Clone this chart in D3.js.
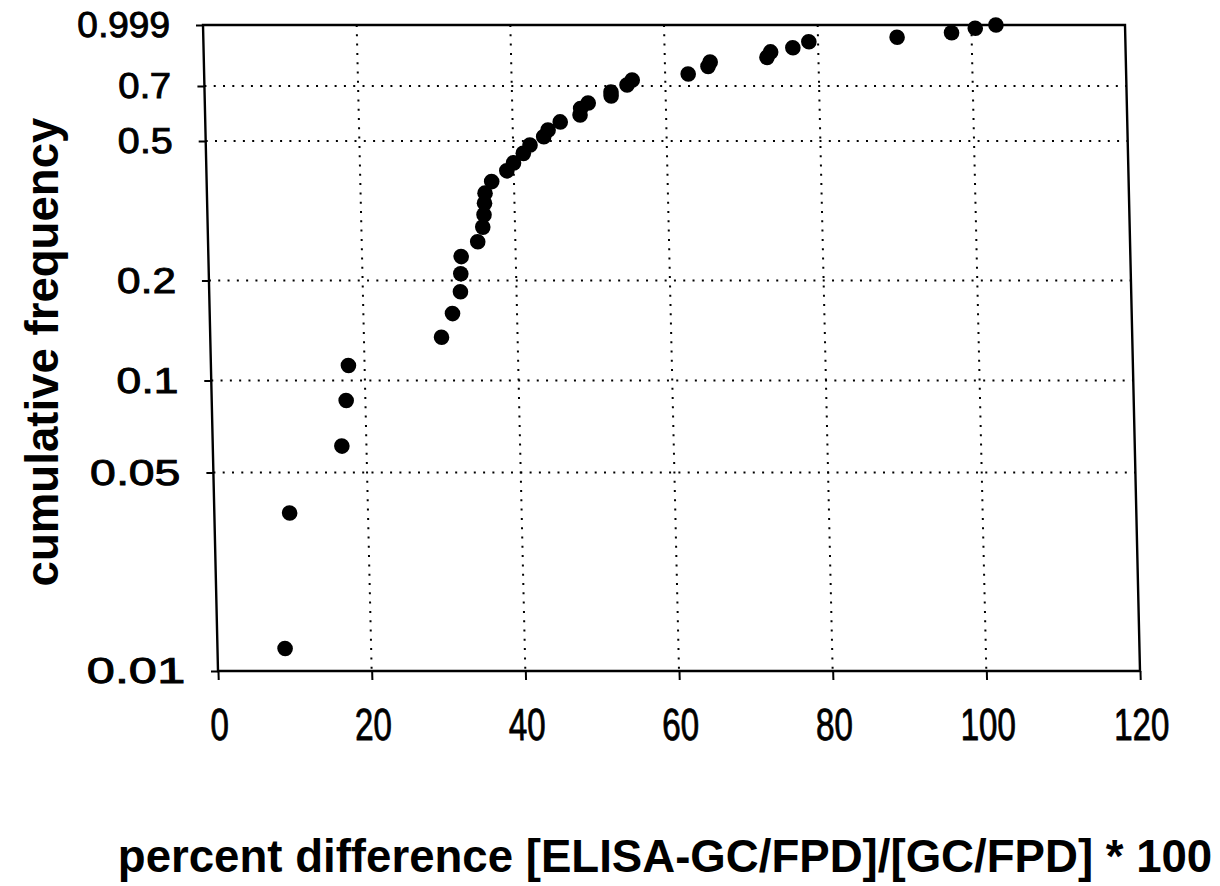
<!DOCTYPE html>
<html>
<head>
<meta charset="utf-8">
<script src="https://cdn.jsdelivr.net/npm/d3@7"></script>
<style>
  html, body { margin: 0; padding: 0; background: #fff; }
  svg { display: block; font-family: "Liberation Sans", Arial, sans-serif; }
</style>
</head>
<body>
<svg id="chart" width="1220" height="886"></svg>
<script>
// Data
const pctDiff = [8.8, 9.8, 16.8, 17.5, 17.9, 30.1, 31.6, 32.7, 32.8, 32.9,
    35.1, 35.8, 36.0, 36.1, 36.2, 37.1, 39.1, 40.0, 41.3, 42.2,
    44.0, 44.6, 46.2, 48.8, 48.9, 49.9, 52.9, 52.9, 55.0, 55.7,
    63.0, 65.6, 65.9, 73.3, 73.8, 76.7, 78.8, 90.3, 97.4, 100.5, 103.2];
const cumFreq = [0.012, 0.036, 0.061, 0.086, 0.111, 0.135, 0.159, 0.185, 0.209, 0.234,
    0.258, 0.284, 0.308, 0.332, 0.355, 0.383, 0.411, 0.433, 0.461, 0.487,
    0.513, 0.535, 0.562, 0.586, 0.610, 0.631, 0.659, 0.675, 0.704, 0.725,
    0.751, 0.784, 0.805, 0.827, 0.854, 0.875, 0.906, 0.930, 0.955, 0.980, 0.999];

const xTicks = [0, 20, 40, 60, 80, 100, 120];
const yTicks = [0.01, 0.05, 0.1, 0.2, 0.5, 0.7, 0.999];
const yTickLabels = ['0.01', '0.05', '0.1', '0.2', '0.5', '0.7', '0.999'];
const xGrid = [20, 40, 60, 80, 100];
const yGrid = [0.05, 0.1, 0.2, 0.5, 0.7];

const xTitle = 'percent difference [ELISA-GC/FPD]/[GC/FPD] * 100';
const yTitle = 'cumulative frequency';

// Layout
const plot = { left: 203, top: 25, width: 922, height: 646 };
const skewDeg = Math.atan(15 / 646) * 180 / Math.PI; // the scanned page leans a little
// hand spaced probability axis: log interpolation between the labelled ticks
const yTickPos = [646, 447.5, 355.5, 255.5, 116, 61, 0];

const svg = d3.select('#chart');

const x = d3.scaleLinear()
    .domain([0, 120])
    .range([0, plot.width]);

const y = d3.scaleLog()
    .domain(yTicks)
    .range(yTickPos);

const g = svg.append('g')
    .attr('transform', `translate(${plot.left},${plot.top}) skewX(${skewDeg})`);

// Dotted grid
g.append('g')
    .selectAll('line')
    .data(yGrid)
    .enter()
    .append('line')
    .attr('x1', 0)
    .attr('x2', plot.width)
    .attr('y1', d => y(d))
    .attr('y2', d => y(d))
    .attr('stroke', '#000')
    .attr('stroke-width', 2)
    .attr('stroke-dasharray', '2,7.3');

g.append('g')
    .selectAll('line')
    .data(xGrid)
    .enter()
    .append('line')
    .attr('x1', d => x(d))
    .attr('x2', d => x(d))
    .attr('y1', 0)
    .attr('y2', plot.height)
    .attr('stroke', '#000')
    .attr('stroke-width', 2)
    .attr('stroke-dasharray', '2,7.3');

// Frame
g.append('rect')
    .attr('x', 0)
    .attr('y', 0)
    .attr('width', plot.width)
    .attr('height', plot.height)
    .attr('fill', 'none')
    .attr('stroke', '#000')
    .attr('stroke-width', 2.4);

// Y axis
const yAxis = g.append('g')
    .call(d3.axisLeft(y)
        .tickValues(yTicks)
        .tickFormat((d, i) => yTickLabels[i])
        .tickSize(7)
        .tickPadding(26));
yAxis.select('.domain').remove();
yAxis.selectAll('line').attr('stroke', '#000').attr('stroke-width', 2);
yAxis.selectAll('text')
    .attr('fill', '#000')
    .attr('stroke', '#000')
    .attr('stroke-width', 0.9)
    .style('font-size', '36px')
    .each(function(d) {
        // lower labels come out wider on the scan
        const s = 1.03 + 0.00058 * y(d);
        d3.select(this)
            .attr('x', -33 / s)
            .attr('transform', `scale(${s},1)`);
    });

// X axis
const xAxis = g.append('g')
    .attr('transform', `translate(0,${plot.height})`)
    .call(d3.axisBottom(x)
        .tickValues(xTicks)
        .tickSize(9)
        .tickPadding(28));
xAxis.select('.domain').remove();
xAxis.selectAll('line').attr('stroke', '#000').attr('stroke-width', 2);
xAxis.selectAll('text')
    .attr('fill', '#000')
    .attr('stroke', '#000')
    .attr('stroke-width', 0.8)
    .style('font-size', '45px')
    .attr('transform', 'scale(0.74,1)');

// Points
g.append('g')
    .selectAll('circle')
    .data(pctDiff.map((v, i) => [v, cumFreq[i]]))
    .enter()
    .append('circle')
    .attr('cx', d => x(d[0]))
    .attr('cy', d => y(d[1]))
    .attr('r', 7.8)
    .attr('fill', '#000');

// Axis titles
svg.append('text')
    .attr('x', 665)
    .attr('y', 872)
    .attr('text-anchor', 'middle')
    .style('font-size', '45.6px')
    .style('font-weight', 'bold')
    .text(xTitle);

svg.append('text')
    .attr('transform', 'translate(58,352) rotate(-90)')
    .attr('text-anchor', 'middle')
    .style('font-size', '45.6px')
    .style('font-weight', 'bold')
    .text(yTitle);
</script>
</body>
</html>
